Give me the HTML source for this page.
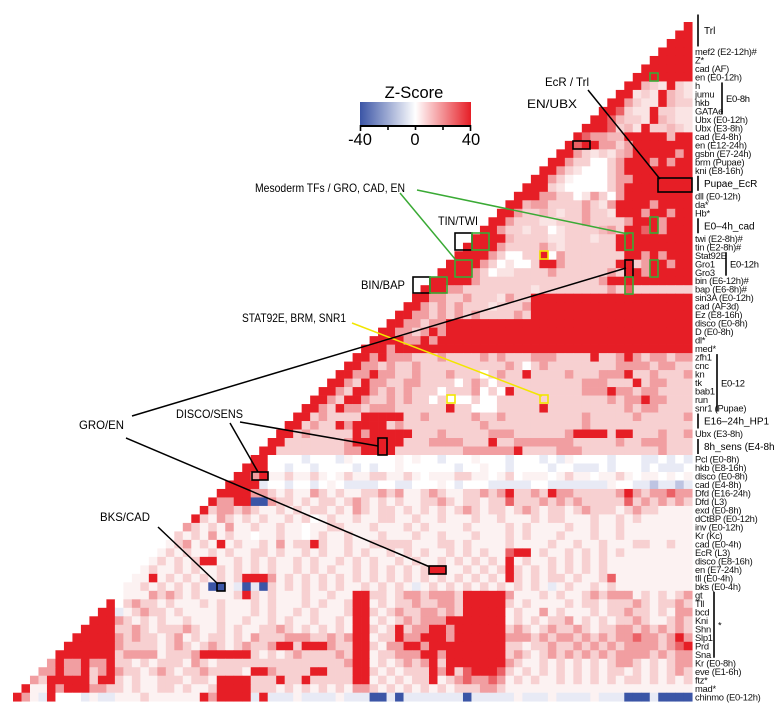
<!DOCTYPE html>
<html><head><meta charset="utf-8">
<style>
html,body{margin:0;padding:0;background:#fff;}
svg{display:block;font-family:"Liberation Sans",Arial,sans-serif;}
</style></head>
<body>
<svg id="chart" width="774" height="715" viewBox="0 0 774 715" xmlns="http://www.w3.org/2000/svg">
  <g id="cells"></g>
  <g id="rowlabels" font-size="9.4" letter-spacing="-0.25" fill="#111"></g>
  <g id="groups"></g>
  <g id="colorbar">
    <defs>
      <linearGradient id="zgrad" x1="0" x2="1" y1="0" y2="0">
        <stop offset="0" stop-color="#3b55a6"/>
        <stop offset="0.5" stop-color="#ffffff"/>
        <stop offset="1" stop-color="#e61e26"/>
      </linearGradient>
    </defs>
    <text x="414" y="98" font-size="16.5" text-anchor="middle">Z-Score</text>
    <rect x="360" y="102" width="111" height="23" fill="url(#zgrad)"/>
    <line x1="360" y1="126" x2="471" y2="126" stroke="#000" stroke-width="2"/>
    <g stroke="#000" stroke-width="1.6">
      <line x1="360.5" y1="125" x2="360.5" y2="131"/><line x1="388" y1="125" x2="388" y2="130"/>
      <line x1="415.5" y1="125" x2="415.5" y2="130"/><line x1="443" y1="125" x2="443" y2="130"/>
      <line x1="470.5" y1="125" x2="470.5" y2="131"/>
    </g>
    <text x="360" y="145" font-size="16.5" text-anchor="middle">-40</text>
    <text x="415" y="145" font-size="16.5" text-anchor="middle">0</text>
    <text x="471" y="145" font-size="16.5" text-anchor="middle">40</text>
  </g>
  <g id="annotations" font-size="12"></g>
</svg>
<script>
// ===== data =====
// rows[i]: cell levels from diagonal (col 79-i) to col 79; '0'-'9' red intensity, 'a','b','c' blue intensity.
// "X*n" repeats, "|col:chars" overrides at absolute column.
const rows = [
"9","99","999","9999","99999","999999","9999999",
"99432932","992329432","9953229433","99732293322","997433294322","9997342933432",
"97554499999499","979955359999999","9953232459999959","99533003599959599","995320003599999999",
"9953100003559999999","99932000003599999999","999553302530599999999","9945533335325999959999",
"99533432335332999599599","995333223335333359995999","9953323302333345399795999",
"99994333322333233999999999","999953333532333333999999999",
"9999530033905333333399595999|62:9",
"99995302003995333333993599599|72:9|75:9",
"999953022333353333335399559999|72:9|75:9",
"9999953333333333333359959999999|72:9",
"99955333333332333333335393333333|72:7",
"99553353332533 9*19",
"995353533323335 9*19",
"9955353535333353 9*19",
"9955355 9*29",
"99553595 9*29",
"9999559599 9*28",
"99959999 9*31",
"9959555333533335353335553333933555355355|72:9",
"99553533533333333335303533333333555535533|72:5",
"995595533533353330353393333533355593353335",
"9953955335533330353033333333335553339355333",
"99539953535333033350309333333335559553553333",
"995399533535330300030033333333333335355955333",
"9953955355533333303300033333333333333353553333|51:9|62:9",
"993533339999933533333533533333333353333353333353",
"9935339599993533333333353333333333353333333333333",
"9935333339599999333533333555333333599993993335335",
"99333333359999993335555333933555555533333533555333",
"993333333355999933333333555555933335553333333335333",
"990000a000a10000010100a0001000a000a0a10000a000aa0a0a",
"99900a00a0000a0a001000000a00100a0000a00aaa0a000a0aaa0",
"99591131131013113311310111331101301110131101131011010",
"9999a00a00a010aaaa00aa00010a000aaaaa00aaaaaaa100aabaabaa",
"9999553131153131133535113531133535|58:9335395|65:5333335|72:95355755",
"95599cc5331313313531313113353133133|58:73335353533333|72:73535353",
"935535311313133131531331313131353133135313313533313533",
"93153131311313013113113311311311131131113133111311313",
"53131511311311011331113111313111131111313111131131131",
"31315131101131101311311131113113111311131311131113113",
"1351319131131513313113113333311133131111311113113113111331131|35:9",
"13131131311331311313113131131313113131311313131131313131|58:799",
"131313131131313113131131313113131131313131313113131313|22:99|58:9",
"1311313113131313113131311313131313131131313131313131313|49:99|58:9",
"119131313131399531313131313131313131313131311313133131131|16:9|28:995|58:9|70:7",
"1131313131c11ac3131313131311313131a131313131313131a1311313|24:c|28:ac",
"0111535313111139313111311311|40:99|42:33135535553|53:99999|58:5111313113535551313135",
"90353313111313111313111313113|40:99|42:13133533553|53:99999|58:3131111313313335313353",
"99a135331311113111313113131113|40:99|42:31353355353|53:99999|58:1311513111313353313155",
"9995313131131113113113131131131|40:99|42:13135355599|53:99999|58:1313133513131335311353",
"99993353133353113131133531313131|40:99|42:31393559959|53:99999|58:3531353353133553535353",
"999995353313513133131533355533535|40:99|42:13395599959|53:99999|58:5553535535353557553595",
"9999995333313531353135335993999533|40:99|42:31559959999|53:99999|58:3313353353535355553579",
"99999993555513335999999313135333353|40:99|42:13355599599|53:99999|58:3531353535353555535355",
"595595593313133315313333333333333335|40:99|42:13135359399|53:99999|58:5311313131313553131355",
"5595593595331353133533331995333399333|40:99|42:31313339593|53:79997|58:3131313131313313131353",
"53999993993131133313319999333933933333|40:99|42:13131339135|53:75575|58:1313113131313133131313",
"91195999553313113313113999933313131313|40:55|42:31313131313|53:33553|58:1111111111111111111111",
"951a9000a1aa1113111111959999a9aaa1aaaa1aaaccacaaaaaaacaaaaa1aaa1aaaa1aaacccacccc"
];
const rowLabels = [
"","","","mef2 (E2-12h)#","Z*","cad (AF)","en (E0-12h)","h","jumu","hkb","GATAe","Ubx (E0-12h)","Ubx (E3-8h)",
"cad (E4-8h)","en (E12-24h)","gsbn (E7-24h)","brm (Pupae)","kni (E8-16h)","","","dll (E0-12h)","da*","Hb*","","",
"twi (E2-8h)#","tin (E2-8h)#","Stat92E","Gro1","Gro3","bin (E6-12h)#","bap (E6-8h)#","sin3A (E0-12h)","cad (AF3d)",
"Ez (E8-16h)","disco (E0-8h)","D (E0-8h)","dl*","med*","zfh1","cnc","kn","tk","bab1","run","snr1 (Pupae)","","",
"Ubx (E3-8h)","","","Pcl (E0-8h)","hkb (E8-16h)","disco (E0-8h)","cad (E4-8h)","Dfd (E16-24h)","Dfd (L3)",
"exd (E0-8h)","dCtBP (E0-12h)","inv (E0-12h)","Kr (Kc)","cad (E0-4h)","EcR (L3)","disco (E8-16h)","en (E7-24h)",
"tll (E0-4h)","bks (E0-4h)","gt","Tll","bcd","Kni","Shn","Slp1","Prd","Sna","Kr (E0-8h)","eve (E1-6h)","ftz*","mad*",
"chinmo (E0-12h)"
];
// single-bar groups: [label, startRow, endRow]
const barGroups = [["Trl",-1,2],["Pupae_EcR",18,19],["E0\u20134h_cad",23,24],["E16\u201324h_HP1",46,47],["8h_sens (E4-8h)",49,50]];
// sub-bracket groups: [label, startRow, endRow, xOffset]
const subGroups = [["E0-8h",7,10,27],["E0-12h",27,29,31],["E0-12",39,45,22],["*",67,74,19]];
// colour levels
const redLevels = [[255,255,255],[252,242,242],[250,228,228],[247,208,209],[244,184,186],[241,158,161],[238,128,133],[235,97,102],[232,62,68],[230,30,38]];
const blueLevels = {a:[232,234,245], b:[190,196,226], c:[59,85,166]};

// ===== scales =====
const N = 80, X0 = 13, Y0 = 22, CS = 8.49;
function xS(j){ return X0 + j*CS; }
function yS(i){ return Y0 + i*CS; }
function color(ch){
  const c = blueLevels[ch] || redLevels[+ch];
  return 'rgb(' + c[0] + ',' + c[1] + ',' + c[2] + ')';
}
const NS = 'http://www.w3.org/2000/svg';
function mk(tag, attrs){ const e = document.createElementNS(NS, tag); for (const k in attrs) e.setAttribute(k, attrs[k]); return e; }

// ===== cells =====
const gCells = document.getElementById('cells');
rows.forEach(function(str, i){
  const parts = str.split('|');
  let base = parts[0].replace(/\s+/g,'').replace(/(.)\*(\d+)/g, function(m,c,n){ return c.repeat(+n); });
  const len = i + 1, start = N - 1 - i;
  const cells = (base + '1'.repeat(len)).slice(0, len).split('');
  parts.slice(1).forEach(function(p){
    const kv = p.split(':'); const c0 = +kv[0]; const v = kv[1];
    for (let k = 0; k < v.length; k++){ const idx = c0 + k - start; if (idx >= 0 && idx < len) cells[idx] = v[k]; }
  });
  cells.forEach(function(ch, k){
    const j = start + k;
    const r = mk('rect', {x: xS(j).toFixed(2), y: yS(i).toFixed(2), width: (CS+0.35).toFixed(2), height: (CS+0.35).toFixed(2), fill: color(ch)});
    
    
    gCells.appendChild(r);
  });
});

// ===== row labels =====
const gLab = document.getElementById('rowlabels');
rowLabels.forEach(function(lbl, i){
  if (!lbl) return;
  const t = mk('text', {x: 695, y: (yS(i) + CS/2 + 3.3).toFixed(1)});
  t.textContent = lbl;
  
  
  gLab.appendChild(t);
});

// ===== brackets =====
const gGrp = document.getElementById('groups');
barGroups.forEach(function(g){
  const y1 = yS(g[1]) + 1, y2 = yS(g[2] + 1) - 1;
  const l = mk('line', {x1: 698, x2: 698, y1: y1, y2: y2, stroke: '#000', 'stroke-width': 1.6});
  
  
  gGrp.appendChild(l);
  const t = mk('text', {x: 704, y: ((y1+y2)/2 + 3.6).toFixed(1), 'font-size': 10});
  t.textContent = g[0];
  
  
  gGrp.appendChild(t);
});
subGroups.forEach(function(g){
  const x = 695 + g[3];
  const y1 = yS(g[1]) + 1, y2 = yS(g[2] + 1) - 1;
  const l = mk('line', {x1: x, x2: x, y1: y1, y2: y2, stroke: '#000', 'stroke-width': 1.6});
  
  
  gGrp.appendChild(l);
  const t = mk('text', {x: x + 4, y: ((y1+y2)/2 + 3.6).toFixed(1), 'font-size': 9.4, 'letter-spacing': -0.25});
  t.textContent = g[0];
  
  
  gGrp.appendChild(t);
});

// ===== annotations =====
const gAnn = document.getElementById('annotations');
const annLabels = [
  ["EcR / Trl", 545, 86, 44], ["EN/UBX", 527, 108, 50], ["Mesoderm TFs / GRO, CAD, EN", 255, 192, 150],
  ["TIN/TWI", 438, 225, 40], ["BIN/BAP", 361, 289, 44], ["STAT92E, BRM, SNR1", 242, 322, 104],
  ["GRO/EN", 79, 429, 45], ["DISCO/SENS", 176, 418, 67], ["BKS/CAD", 100, 521, 50]
];
annLabels.forEach(function(a){
  const t = mk('text', {x: a[1], y: a[2], textLength: a[3], lengthAdjust: 'spacingAndGlyphs'});
  t.textContent = a[0];
  
  
  gAnn.appendChild(t);
});
const annLines = [
  [588,90,660,179,'#000'], [400,193,455,259,'#3aaa35'], [417,190,628,234,'#3aaa35'],
  [352,323,542,396,'#f2e600'], [132,416,626,268,'#000'], [126,438,430,567,'#000'],
  [230,423,258,472,'#000'], [240,422,378,446,'#000'], [158,527,218,584,'#000']
];
annLines.forEach(function(a){
  const l = mk('line', {x1:a[0], y1:a[1], x2:a[2], y2:a[3], stroke:a[4], 'stroke-width':1.5});
  
  
  gAnn.appendChild(l);
});
const annBoxes = [
  [658,178,34,14,'#000'],[573,141,17,8,'#000'],[455,233,17,17,'#000'],[413,277,17,16,'#000'],
  [625,260,8,17,'#000'],[378,438,9,17,'#000'],[252,472,16,8,'#000'],[429,566,17,8,'#000'],[217,583,8,8,'#000'],
  [650,73,8,8,'#3aaa35'],[650,217,8,16,'#3aaa35'],[472,233,17,17,'#3aaa35'],[625,233,8,17,'#3aaa35'],
  [455,260,17,17,'#3aaa35'],[650,260,8,17,'#3aaa35'],[430,277,17,16,'#3aaa35'],[625,277,8,17,'#3aaa35'],
  [540,251,8,8,'#f2e600'],[447,395,8,8,'#f2e600'],[540,395,8,8,'#f2e600']
];
annBoxes.forEach(function(b){
  const r = mk('rect', {x:b[0], y:b[1], width:b[2], height:b[3], fill:'none', stroke:b[4], 'stroke-width':1.6});
  
  
  gAnn.appendChild(r);
});
</script>
</body></html>
